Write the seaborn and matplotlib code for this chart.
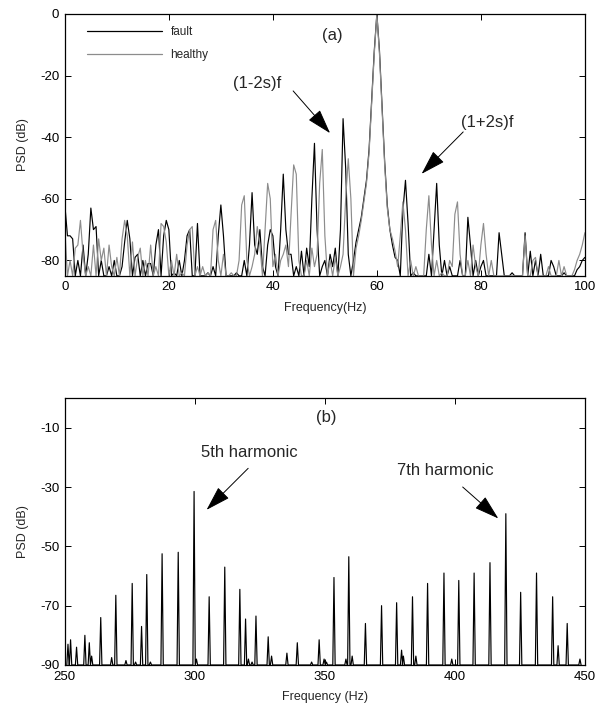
import numpy as np
import pandas as pd
import matplotlib
matplotlib.use("Agg")
import matplotlib.pyplot as plt
import seaborn as sns
from matplotlib.lines import Line2D

# ---------------- data ----------------
# (a) low-frequency PSD around the supply frequency, 0.5 Hz bins, 0..100 Hz
freq_a = [i * 0.5 for i in range(201)]
psd_fault = [
    -62, -72, -72, -73, -85, -80, -85, -75, -85, -78,   # 0 - 4.5
    -63, -70, -69, -85, -80, -85, -85, -82, -85, -80,   # 5 - 9.5
    -85, -85, -82, -74, -67, -73, -85, -79, -78, -85,   # 10 - 14.5
    -80, -85, -81, -81, -85, -75, -70, -85, -72, -67,   # 15 - 19.5
    -70, -85, -84, -85, -80, -85, -80, -72, -70, -85,   # 20 - 24.5
    -85, -68, -85, -85, -85, -84, -85, -82, -85, -72,   # 25 - 29.5
    -62, -72, -85, -85, -85, -85, -84, -85, -85, -80,   # 30 - 34.5
    -85, -75, -58, -75, -78, -70, -82, -85, -75, -70,   # 35 - 39.5
    -72, -82, -85, -70, -52, -70, -78, -78, -85, -82,   # 40 - 44.5
    -85, -77, -85, -76, -82, -60, -42, -70, -85, -82,   # 45 - 49.5
    -80, -85, -78, -82, -76, -85, -70, -34, -50, -78,   # 50 - 54.5
    -85, -80, -74, -70, -66, -60, -54, -44, -28, -12,   # 55 - 59.5
    0, -12, -30, -48, -62, -70, -75, -79, -80, -85,     # 60 - 64.5
    -64, -54, -68, -85, -84, -85, -85, -85, -85, -85,   # 65 - 69.5
    -78, -85, -70, -55, -75, -85, -80, -85, -82, -85,   # 70 - 74.5
    -85, -85, -80, -85, -85, -66, -75, -85, -80, -85,   # 75 - 79.5
    -82, -80, -85, -85, -85, -85, -85, -71, -78, -85,   # 80 - 84.5
    -85, -85, -84, -85, -85, -85, -85, -71, -85, -77,   # 85 - 89.5
    -85, -80, -85, -78, -85, -85, -85, -80, -82, -85,   # 90 - 94.5
    -85, -85, -84, -85, -85, -85, -85, -83, -82, -80,   # 95 - 99.5
    -79,                                                # 100
]
psd_healthy = [
    -70, -85, -80, -85, -76, -75, -67, -78, -85, -82,   # 0 - 4.5
    -85, -75, -85, -73, -80, -76, -85, -75, -82, -85,   # 5 - 9.5
    -79, -85, -73, -67, -72, -85, -74, -85, -79, -76,   # 10 - 14.5
    -85, -80, -85, -75, -85, -82, -85, -68, -69, -74,   # 15 - 19.5
    -85, -80, -85, -78, -85, -84, -85, -75, -70, -69,   # 20 - 24.5
    -85, -82, -85, -82, -85, -84, -85, -70, -67, -80,   # 25 - 29.5
    -85, -78, -85, -85, -84, -85, -85, -80, -62, -59,   # 30 - 34.5
    -80, -85, -82, -78, -69, -75, -85, -70, -55, -60,   # 35 - 39.5
    -82, -78, -85, -80, -78, -75, -82, -65, -49, -52,   # 40 - 44.5
    -80, -85, -85, -80, -85, -76, -82, -78, -55, -44,   # 45 - 49.5
    -72, -85, -80, -85, -79, -85, -82, -78, -60, -47,   # 50 - 54.5
    -60, -85, -76, -72, -67, -61, -55, -45, -29, -13,   # 55 - 59.5
    0, -13, -31, -49, -63, -70, -73, -77, -82, -72,     # 60 - 64.5
    -61, -70, -85, -80, -85, -82, -85, -85, -85, -70,   # 65 - 69.5
    -59, -75, -85, -80, -85, -84, -85, -85, -80, -82,   # 70 - 74.5
    -65, -61, -78, -85, -85, -80, -85, -75, -82, -85,   # 75 - 79.5
    -75, -68, -78, -85, -80, -85, -85, -85, -85, -85,   # 80 - 84.5
    -85, -85, -85, -85, -85, -85, -85, -72, -85, -85,   # 85 - 89.5
    -80, -79, -85, -85, -85, -85, -82, -85, -85, -85,   # 90 - 94.5
    -80, -85, -82, -85, -85, -85, -83, -80, -78, -75,   # 95 - 99.5
    -71,                                                # 100
]

# (b) spectral lines around the 5th and 7th harmonics (Hz, dB)
line_freq = [
    251.2, 252.2, 254.5, 257.7, 259.4, 260.3, 263.8, 268.0, 269.6, 273.5,
    275.9, 277.2, 279.5, 281.5, 282.9, 287.4, 293.6, 299.7, 300.6, 305.5,
    311.5, 317.3, 319.5, 320.6, 322.0, 323.5, 328.2, 329.5, 335.4, 339.4,
    344.9, 347.8, 349.7, 350.6, 353.5, 358.1, 359.2, 360.5, 365.6, 371.8,
    377.6, 379.5, 380.2, 383.7, 385.0, 389.5, 395.8, 398.8, 401.5, 407.4,
    413.5, 419.6, 425.3, 431.4, 437.6, 439.7, 443.2, 448.1,
]
line_db = [
    -83, -81.5, -84, -80, -82.5, -87, -74, -87.5, -66.5, -88.5,
    -62.5, -89, -77, -59.5, -89, -52.5, -52, -31.5, -88, -67,
    -57, -64.5, -74.5, -88, -89, -73.5, -80.5, -87, -86, -82.5,
    -89, -81.5, -88, -89, -60.5, -88, -53.5, -87, -76, -70,
    -69, -85, -87, -67, -87, -62.5, -59, -88, -61.5, -59,
    -55.5, -39, -65.5, -59, -67, -83.5, -76, -88,
]
floor_b = -90

# ---------------- tables for seaborn ----------------
df_a = pd.DataFrame({
    "Frequency": freq_a * 2,
    "PSD": psd_fault + psd_healthy,
    "state": ["fault"] * len(freq_a) + ["healthy"] * len(freq_a),
})

half_width = 0.45
xs, ys = [], []
for f, v in zip(line_freq, line_db):
    xs += [f - half_width, f, f + half_width]
    ys += [floor_b, v, floor_b]
df_b = pd.DataFrame({"Frequency": xs, "PSD": ys})

# ---------------- figure ----------------
sns.set_theme(style="white")
plt.rcParams["font.family"] = ["Liberation Sans", "DejaVu Sans"]
plt.rcParams["axes.edgecolor"] = "black"
plt.rcParams["axes.linewidth"] = 0.9
plt.rcParams["axes.unicode_minus"] = False

fig = plt.figure(figsize=(5.95, 7.11), dpi=100)
ax1 = fig.add_axes([0.109, 0.612, 0.874, 0.3685])
ax2 = fig.add_axes([0.109, 0.0647, 0.874, 0.3755])

palette = {"fault": "black", "healthy": "#8c8c8c"}

# panel (a)
sns.lineplot(data=df_a, x="Frequency", y="PSD", hue="state",
             hue_order=["fault", "healthy"], palette=palette,
             linewidth=0.85, sort=False, estimator=None, ax=ax1, legend=False)
ax1.set_xlim(0, 100)
ax1.set_ylim(-85, 0)
ax1.set_xticks([0, 20, 40, 60, 80, 100])
ax1.set_yticks([0, -20, -40, -60, -80])

handles = [Line2D([], [], color=palette["fault"], lw=0.9),
           Line2D([], [], color=palette["healthy"], lw=0.9)]
ax1.legend(handles, ["fault", "healthy"], loc="upper left",
           bbox_to_anchor=(0.042, 0.955), frameon=False, fontsize=8.5,
           handlelength=6.4, handletextpad=0.7, labelspacing=0.95,
           borderpad=0, borderaxespad=0)

ann_kw = dict(fontsize=12, ha="center", va="center")
arrow_kw = dict(arrowstyle="-|>,head_length=1.3,head_width=0.4",
                color="black", lw=0.7, shrinkA=0, shrinkB=0,
                mutation_scale=12)

ax1.text(51.5, -7, "(a)", **ann_kw)
ax1.text(37.0, -22.5, "(1-2s)f", **ann_kw)
ax1.annotate("", xy=(51.0, -38.7), xytext=(43.9, -25.0), arrowprops=arrow_kw)
ax1.text(81.3, -35.2, "(1+2s)f", **ann_kw)
ax1.annotate("", xy=(68.6, -51.9), xytext=(76.6, -38.3), arrowprops=arrow_kw)

# panel (b)
sns.lineplot(data=df_b, x="Frequency", y="PSD", color="black",
             linewidth=0.85, sort=False, estimator=None, ax=ax2)
ax2.set_xlim(250, 450)
ax2.set_ylim(-90, 0)
ax2.set_xticks([250, 300, 350, 400, 450])
ax2.set_yticks([-10, -30, -50, -70, -90])

ax2.text(350.4, -6.7, "(b)", **ann_kw)
ax2.text(320.8, -18.5, "5th harmonic", **ann_kw)
ax2.annotate("", xy=(304.5, -37.7), xytext=(320.5, -23.7), arrowprops=arrow_kw)
ax2.text(396.3, -24.3, "7th harmonic", **ann_kw)
ax2.annotate("", xy=(416.7, -40.6), xytext=(403.0, -30.0), arrowprops=arrow_kw)

for ax, xl in ((ax1, "Frequency(Hz)"), (ax2, "Frequency (Hz)")):
    ax.set_xlabel(xl, fontsize=9, labelpad=6)
    ax.set_ylabel("PSD (dB)", fontsize=9, labelpad=8)
    ax.tick_params(direction="in", length=4, width=0.7, labelsize=9.5,
                   top=True, right=True, bottom=True, left=True,
                   colors="black", pad=4)
    for s in ax.spines.values():
        s.set_visible(True)
        s.set_color("black")

fig.savefig("out.png", dpi=100, facecolor="white")
